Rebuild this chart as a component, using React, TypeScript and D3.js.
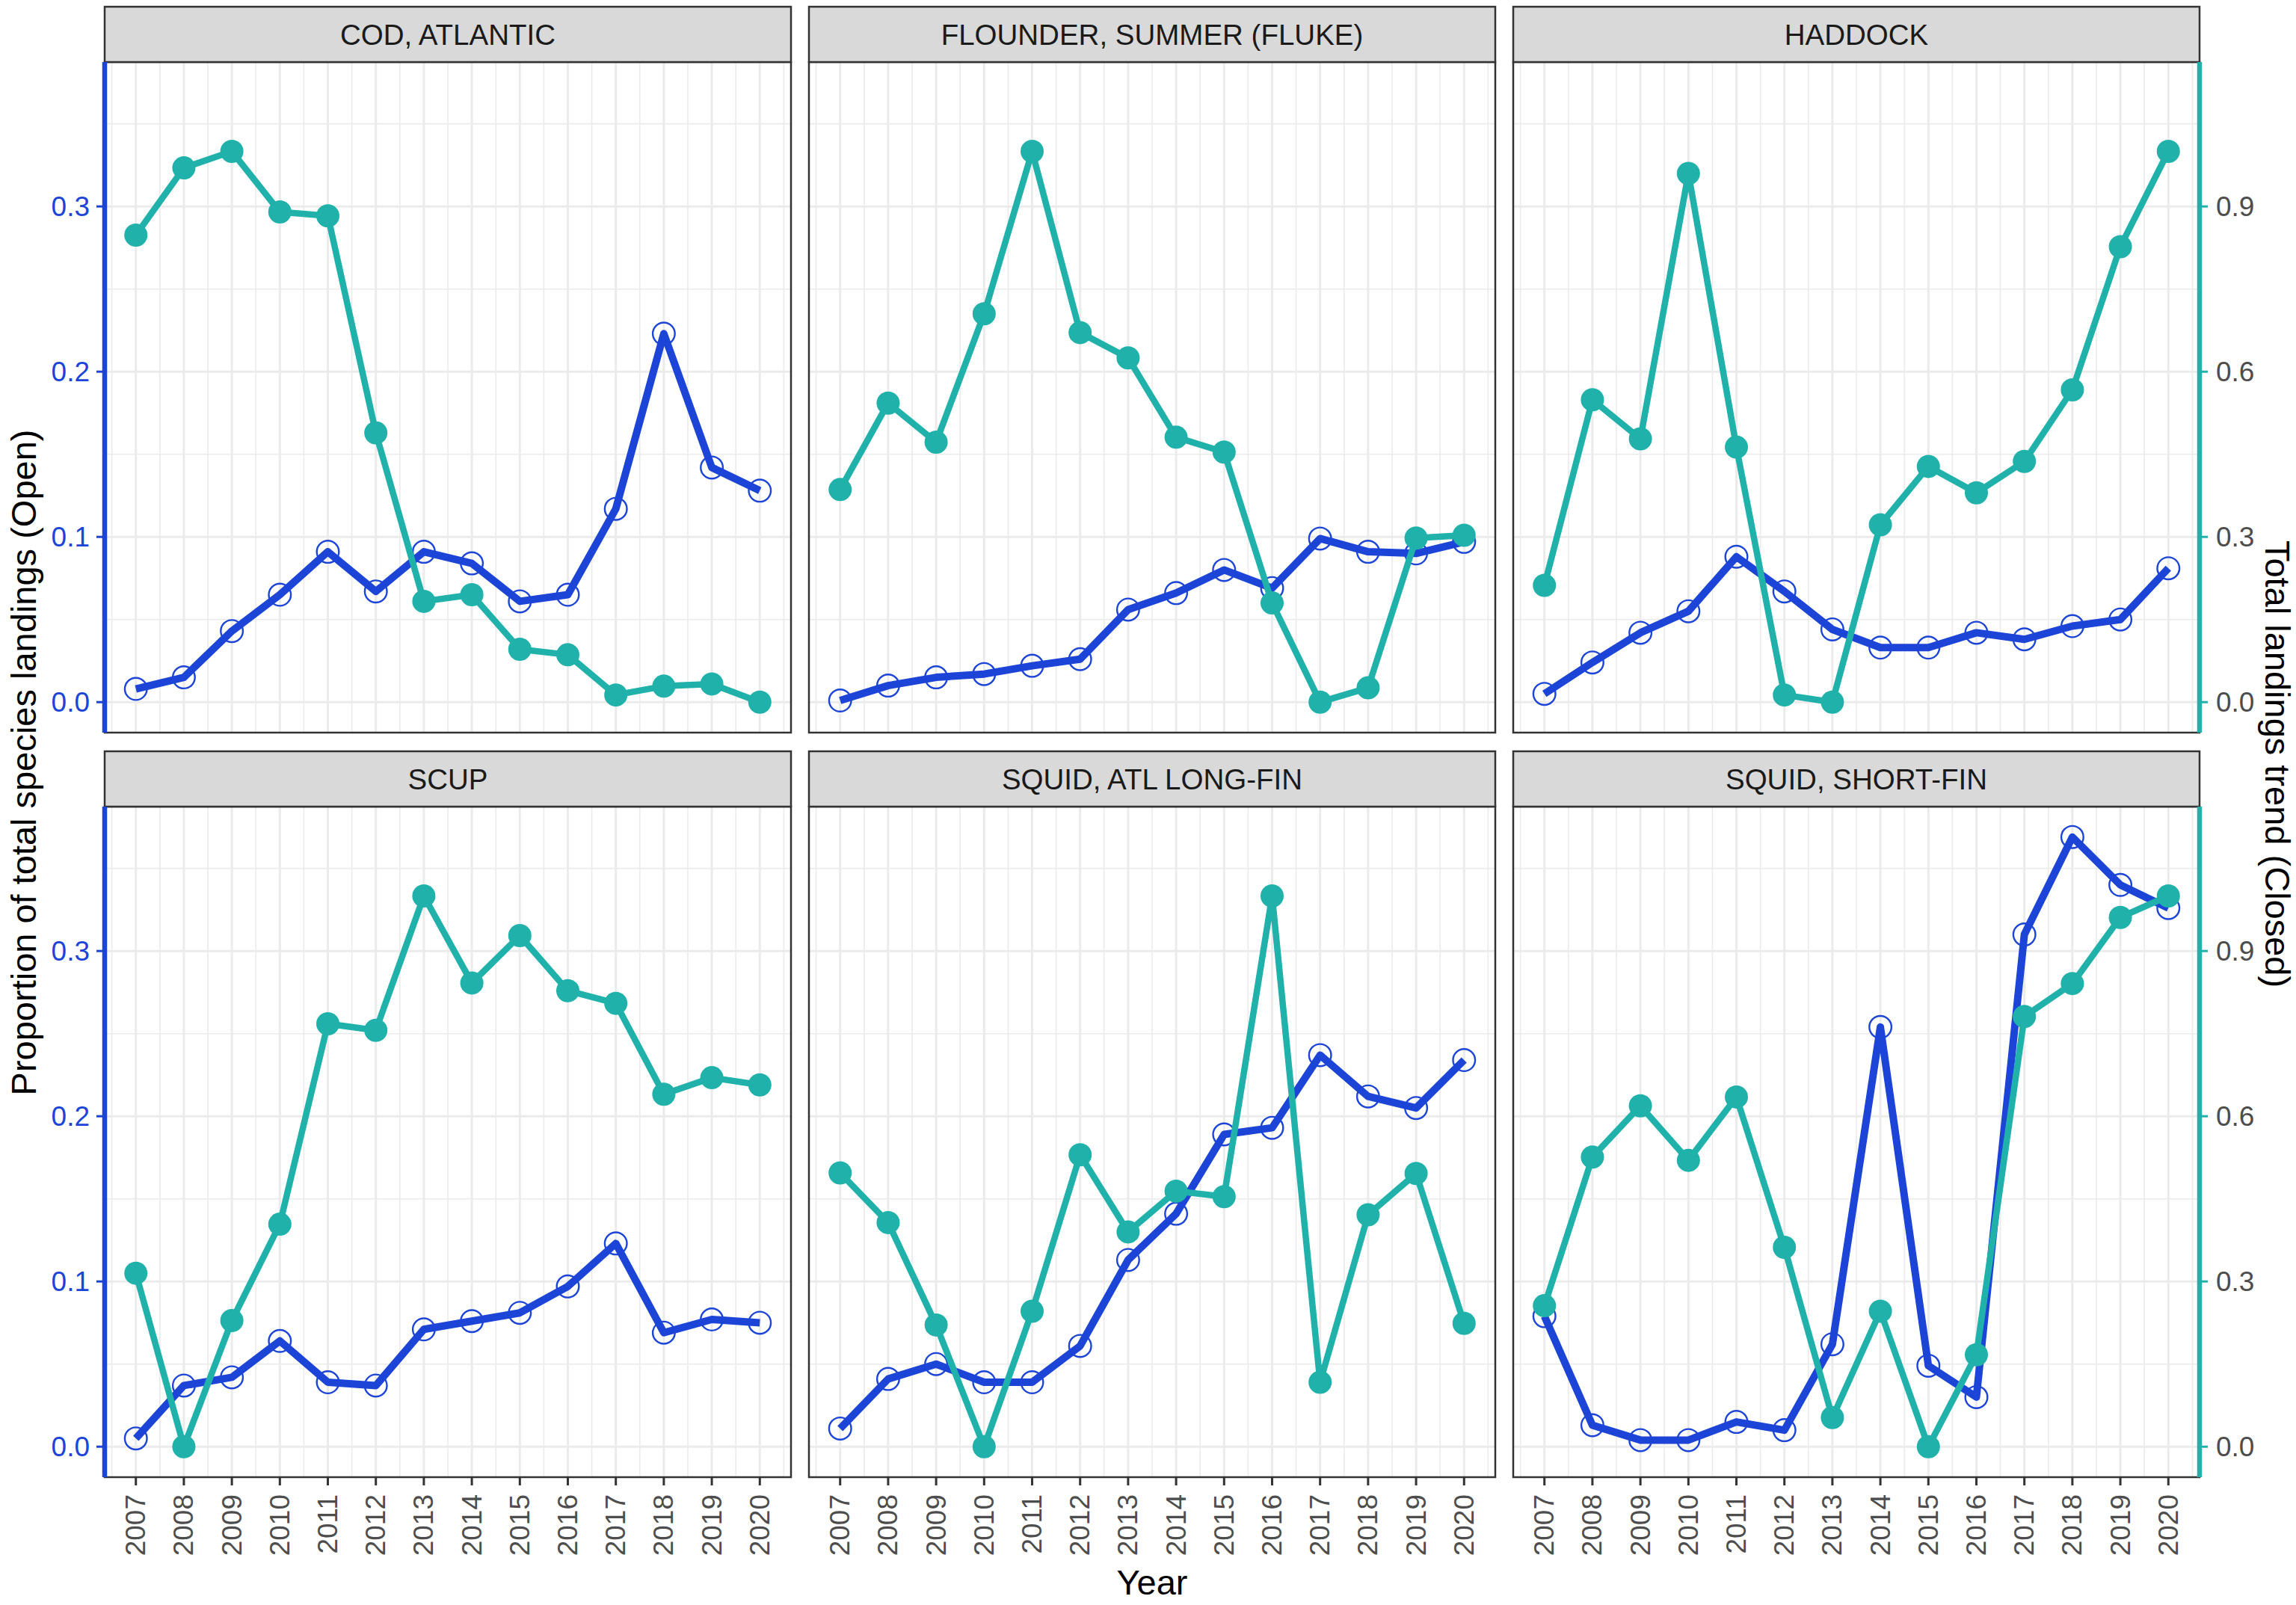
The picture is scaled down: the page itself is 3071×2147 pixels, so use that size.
import React from 'react';
import * as d3 from 'd3';

// ---------- data ----------
const years = [2007, 2008, 2009, 2010, 2011, 2012, 2013, 2014, 2015, 2016, 2017, 2018, 2019, 2020];
const yearLabels = years.map(String);

const speciesNames = [
  'COD, ATLANTIC',
  'FLOUNDER, SUMMER (FLUKE)',
  'HADDOCK',
  'SCUP',
  'SQUID, ATL LONG-FIN',
  'SQUID, SHORT-FIN',
];

// Proportion of total species landings (Open) - left axis
const openCod = [0.008, 0.015, 0.043, 0.065, 0.091, 0.067, 0.091, 0.084, 0.061, 0.065, 0.117, 0.223, 0.142, 0.128];
const openFlounder = [0.001, 0.010, 0.015, 0.017, 0.022, 0.026, 0.056, 0.066, 0.080, 0.069, 0.099, 0.091, 0.090, 0.097];
const openHaddock = [0.005, 0.024, 0.042, 0.055, 0.088, 0.067, 0.044, 0.033, 0.033, 0.042, 0.038, 0.046, 0.050, 0.081];
const openScup = [0.005, 0.037, 0.042, 0.064, 0.039, 0.037, 0.071, 0.076, 0.081, 0.097, 0.123, 0.069, 0.077, 0.075];
const openLongFin = [0.011, 0.041, 0.050, 0.039, 0.039, 0.061, 0.113, 0.141, 0.189, 0.193, 0.237, 0.212, 0.205, 0.234];
const openShortFin = [0.079, 0.013, 0.004, 0.004, 0.015, 0.010, 0.062, 0.254, 0.049, 0.030, 0.310, 0.369, 0.340, 0.326];

// Total landings trend (Closed) - right axis
const closedCod = [0.848, 0.970, 1.0, 0.890, 0.883, 0.489, 0.183, 0.195, 0.096, 0.086, 0.013, 0.029, 0.033, 0.0];
const closedFlounder = [0.386, 0.543, 0.472, 0.705, 1.0, 0.671, 0.625, 0.481, 0.454, 0.180, 0.0, 0.026, 0.298, 0.303];
const closedHaddock = [0.212, 0.549, 0.478, 0.960, 0.463, 0.013, 0.0, 0.322, 0.428, 0.380, 0.437, 0.567, 0.827, 1.0];
const closedScup = [0.315, 0.0, 0.229, 0.404, 0.768, 0.756, 1.0, 0.842, 0.928, 0.828, 0.805, 0.640, 0.670, 0.657];
const closedLongFin = [0.497, 0.407, 0.221, 0.0, 0.246, 0.530, 0.390, 0.464, 0.454, 1.0, 0.117, 0.421, 0.496, 0.224];
const closedShortFin = [0.256, 0.526, 0.619, 0.520, 0.635, 0.362, 0.053, 0.246, 0.0, 0.167, 0.781, 0.841, 0.961, 1.0];

const openSeries = [openCod, openFlounder, openHaddock, openScup, openLongFin, openShortFin];
const closedSeries = [closedCod, closedFlounder, closedHaddock, closedScup, closedLongFin, closedShortFin];

const leftTicks = [0, 0.1, 0.2, 0.3];
const rightTicks = [0, 0.3, 0.6, 0.9];
const secFactor = 3; // right axis = left * 3

const yTitleLeft = 'Proportion of total species landings (Open)';
const yTitleRight = 'Total landings trend (Closed)';
const xTitle = 'Year';

// ---------- style / layout ----------
const W = 3071;
const H = 2147;
const FONT = '"Liberation Sans", Arial, Helvetica, sans-serif';
const BLUE = '#1C45D8';
const TEAL = '#20B2AA';
const GRID = '#EBEBEB';
const BORDER = '#333333';

const colX = [140, 1082, 2024];
const panelW = 918;
const stripTop = [9, 1005];
const stripH = 74;
const panelH = 897;

const xDomain: [number, number] = [2006.35, 2020.65];
const yDomain: [number, number] = [-0.01845, 0.3874];

function Panel({ idx }: { idx: number }) {
  const col = idx % 3;
  const row = Math.floor(idx / 3);
  const x0 = colX[col];
  const sTop = stripTop[row];
  const pTop = sTop + stripH;
  const pBot = pTop + panelH;

  const x = d3.scaleLinear().domain(xDomain).range([x0, x0 + panelW]);
  const y = d3.scaleLinear().domain(yDomain).range([pBot, pTop]);
  const yR = d3.scaleLinear().domain([yDomain[0] * secFactor, yDomain[1] * secFactor]).range([pBot, pTop]);

  const open = openSeries[idx];
  const closed = closedSeries[idx];

  const lineOpen = d3.line<number>().x((_, i) => x(years[i])).y((d) => y(d));
  const lineClosed = d3.line<number>().x((_, i) => x(years[i])).y((d) => yR(d));

  const xMinor = [...years.map((v) => v - 0.5), years[years.length - 1] + 0.5];
  const yMinor = leftTicks.map((t) => t + 0.05);

  return (
    <g>
      <rect x={x0} y={pTop} width={panelW} height={panelH} fill="#FFFFFF" />
      {xMinor.map((v) => (
        <line key={'xm' + v} x1={x(v)} x2={x(v)} y1={pTop} y2={pBot} stroke={GRID} strokeWidth={1.6} />
      ))}
      {yMinor.map((v) => (
        <line key={'ym' + v} x1={x0} x2={x0 + panelW} y1={y(v)} y2={y(v)} stroke={GRID} strokeWidth={1.6} />
      ))}
      {years.map((v) => (
        <line key={'xg' + v} x1={x(v)} x2={x(v)} y1={pTop} y2={pBot} stroke={GRID} strokeWidth={3} />
      ))}
      {leftTicks.map((v) => (
        <line key={'yg' + v} x1={x0} x2={x0 + panelW} y1={y(v)} y2={y(v)} stroke={GRID} strokeWidth={3} />
      ))}

      <path d={lineOpen(open) || ''} fill="none" stroke={BLUE} strokeWidth={10} strokeLinejoin="round" />
      {open.map((d, i) => (
        <circle key={'o' + i} cx={x(years[i])} cy={y(d)} r={14.8} fill="none" stroke={BLUE} strokeWidth={2.4} />
      ))}

      <path d={lineClosed(closed) || ''} fill="none" stroke={TEAL} strokeWidth={8.5} strokeLinejoin="round" />
      {closed.map((d, i) => (
        <circle key={'c' + i} cx={x(years[i])} cy={yR(d)} r={15.5} fill={TEAL} />
      ))}

      <rect x={x0} y={pTop} width={panelW} height={panelH} fill="none" stroke={BORDER} strokeWidth={2.5} />

      <rect x={x0} y={sTop} width={panelW} height={stripH} fill="#D9D9D9" stroke={BORDER} strokeWidth={2.5} />
      <text
        x={x0 + panelW / 2}
        y={sTop + stripH / 2}
        textAnchor="middle"
        dominantBaseline="central"
        fontSize={38.5}
        fill="#1A1A1A"
        fontFamily={FONT}
      >
        {speciesNames[idx]}
      </text>

      {col === 0 && (
        <g>
          <line x1={x0} x2={x0} y1={pTop} y2={pBot} stroke={BLUE} strokeWidth={6.5} />
          {leftTicks.map((t) => (
            <g key={'lt' + t}>
              <line x1={x0 - 11} x2={x0} y1={y(t)} y2={y(t)} stroke={BLUE} strokeWidth={3} />
              <text
                x={x0 - 20}
                y={y(t)}
                textAnchor="end"
                dominantBaseline="central"
                fontSize={37}
                fill={BLUE}
                fontFamily={FONT}
              >
                {t.toFixed(1)}
              </text>
            </g>
          ))}
        </g>
      )}

      {col === 2 && (
        <g>
          <line x1={x0 + panelW} x2={x0 + panelW} y1={pTop} y2={pBot} stroke={TEAL} strokeWidth={6.5} />
          {rightTicks.map((t) => (
            <g key={'rt' + t}>
              <line x1={x0 + panelW} x2={x0 + panelW + 11} y1={yR(t)} y2={yR(t)} stroke={TEAL} strokeWidth={3} />
              <text
                x={x0 + panelW + 22}
                y={yR(t)}
                textAnchor="start"
                dominantBaseline="central"
                fontSize={37}
                fill="#4D4D4D"
                fontFamily={FONT}
              >
                {t.toFixed(1)}
              </text>
            </g>
          ))}
        </g>
      )}

      {row === 1 &&
        years.map((v, i) => (
          <g key={'bt' + v}>
            <line x1={x(v)} x2={x(v)} y1={pBot} y2={pBot + 11} stroke={BORDER} strokeWidth={3} />
            <text
              transform={`translate(${x(v)},${pBot + 23}) rotate(-90)`}
              textAnchor="end"
              dominantBaseline="central"
              fontSize={37}
              fill="#4D4D4D"
              fontFamily={FONT}
            >
              {yearLabels[i]}
            </text>
          </g>
        ))}
    </g>
  );
}

export default function App() {
  return (
    <svg
      width={W}
      height={H}
      viewBox={`0 0 ${W} ${H}`}
      style={{ position: 'absolute', left: 0, top: 0, background: '#FFFFFF' }}
    >
      <rect x={0} y={0} width={W} height={H} fill="#FFFFFF" />
      {speciesNames.map((_, i) => (
        <Panel key={i} idx={i} />
      ))}
      <text
        transform={`translate(31,1020) rotate(-90)`}
        textAnchor="middle"
        dominantBaseline="central"
        fontSize={47}
        fill="#000000"
        fontFamily={FONT}
      >
        {yTitleLeft}
      </text>
      <text
        transform={`translate(3046,1022) rotate(90)`}
        textAnchor="middle"
        dominantBaseline="central"
        fontSize={47}
        fill="#000000"
        fontFamily={FONT}
      >
        {yTitleRight}
      </text>
      <text x={1541} y={2133} textAnchor="middle" fontSize={47} fill="#000000" fontFamily={FONT}>
        {xTitle}
      </text>
    </svg>
  );
}
